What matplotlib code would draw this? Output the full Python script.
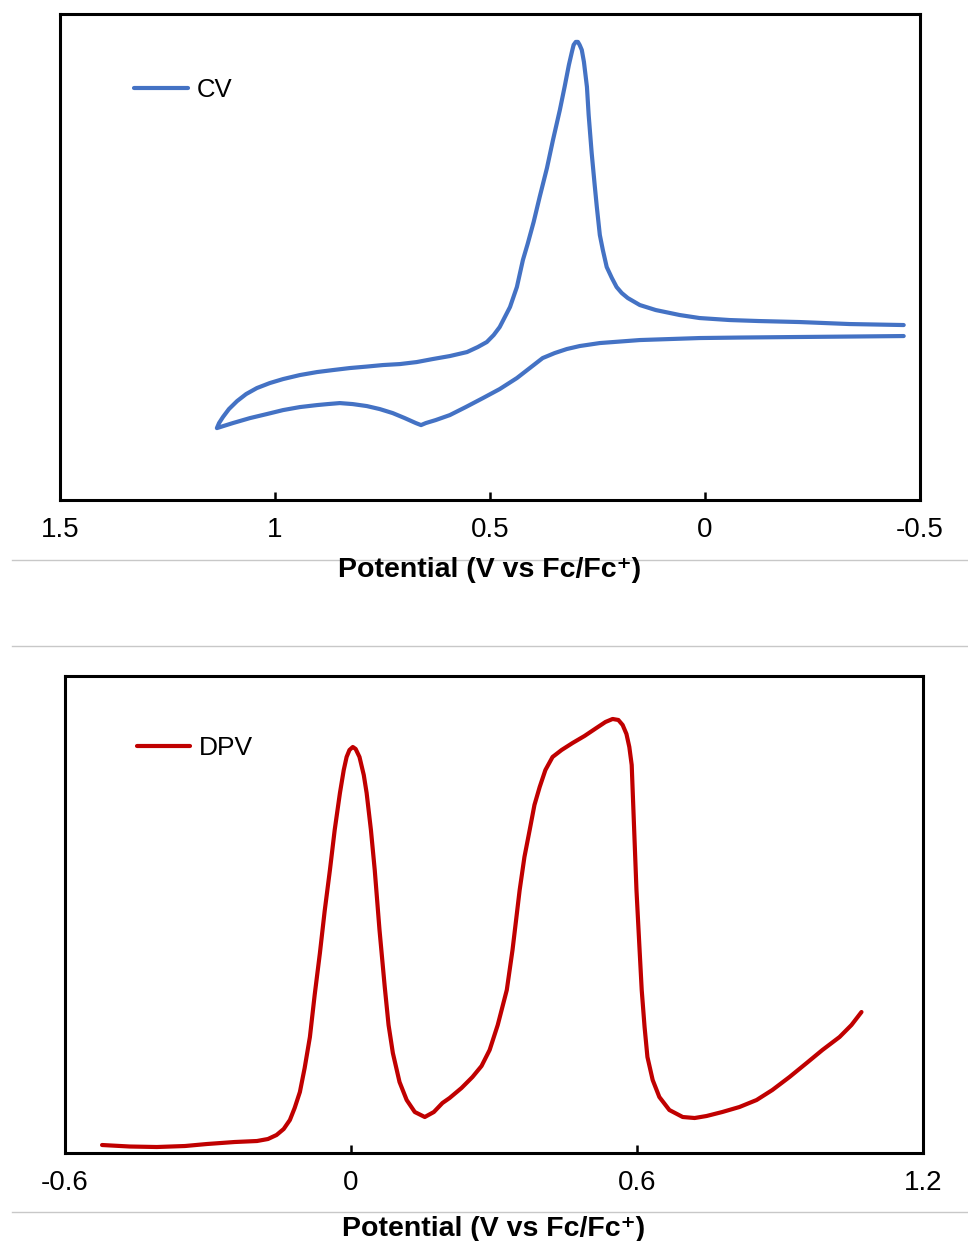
import matplotlib
matplotlib.use("Agg")
import matplotlib.pyplot as plt
from matplotlib.lines import Line2D

plt.rcParams['font.family'] = ['Liberation Sans', 'DejaVu Sans']

# CV scan: reverse branch from -0.46 V out to the 1.14 V vertex, then the forward branch back
cv_potential = [-0.463, -0.337, -0.205, -0.081, 0.012, 0.151, 0.244, 0.291, 0.321, 0.349,
                0.377, 0.407, 0.437, 0.477, 0.516, 0.556, 0.593, 0.626, 0.649, 0.660,
                0.672, 0.698, 0.726, 0.756, 0.786, 0.819, 0.849, 0.877, 0.902, 0.942,
                0.981, 1.019, 1.058, 1.098, 1.135,
                1.130, 1.121, 1.107, 1.088, 1.067, 1.042, 1.012, 0.981, 0.942, 0.902,
                0.865, 0.826, 0.786, 0.749, 0.709, 0.670, 0.633, 0.593, 0.553, 0.528,
                0.507, 0.491, 0.477, 0.465, 0.453, 0.437, 0.423, 0.412, 0.398, 0.384,
                0.367, 0.353, 0.337, 0.326, 0.316, 0.309, 0.305, 0.300, 0.295, 0.291,
                0.286, 0.281, 0.274, 0.270, 0.263, 0.256, 0.251, 0.244, 0.237, 0.228,
                0.216, 0.205, 0.193, 0.179, 0.151, 0.114, 0.058, 0.012, -0.058, -0.126,
                -0.221, -0.337, -0.463]
cv_current = [16.4, 16.35, 16.3, 16.25, 16.2, 16.0, 15.7, 15.4, 15.1, 14.7,
              14.2, 13.2, 12.2, 11.1, 10.2, 9.3, 8.5, 8.0, 7.7, 7.5,
              7.7, 8.2, 8.7, 9.1, 9.4, 9.6, 9.7, 9.6, 9.5, 9.3,
              9.0, 8.6, 8.2, 7.7, 7.2,
              7.7, 8.3, 9.1, 9.9, 10.6, 11.2, 11.7, 12.1, 12.5, 12.8,
              13.0, 13.2, 13.35, 13.5, 13.6, 13.8, 14.1, 14.4, 14.8, 15.3,
              15.8, 16.5, 17.3, 18.3, 19.3, 21.3, 24.0, 25.6, 27.8, 30.3,
              33.2, 36.0, 39.0, 41.3, 43.5, 44.8, 45.5, 45.8, 45.8, 45.5,
              45.0, 43.8, 41.3, 38.5, 34.7, 31.5, 29.3, 26.5, 25.0, 23.3,
              22.2, 21.3, 20.7, 20.2, 19.5, 19.0, 18.5, 18.2, 18.0, 17.9,
              17.8, 17.6, 17.5]

dpv_potential = [-0.522, -0.464, -0.407, -0.348, -0.302, -0.244, -0.197, -0.174, -0.156, -0.141,
                 -0.128, -0.118, -0.107, -0.097, -0.086, -0.076, -0.065, -0.055, -0.044, -0.034,
                 -0.023, -0.015, -0.009, -0.003, 0.004, 0.010, 0.018, 0.027, 0.033, 0.042,
                 0.050, 0.060, 0.071, 0.079, 0.088, 0.102, 0.117, 0.134, 0.155, 0.174,
                 0.192, 0.207, 0.232, 0.255, 0.274, 0.291, 0.308, 0.327, 0.339, 0.354,
                 0.364, 0.375, 0.385, 0.396, 0.408, 0.423, 0.442, 0.465, 0.490, 0.515,
                 0.534, 0.549, 0.561, 0.570, 0.578, 0.584, 0.589, 0.591, 0.595, 0.599,
                 0.605, 0.610, 0.616, 0.622, 0.633, 0.647, 0.668, 0.696, 0.721, 0.746,
                 0.779, 0.815, 0.851, 0.884, 0.920, 0.956, 0.989, 1.025, 1.050, 1.071]
dpv_current = [0.8, 0.65, 0.6, 0.7, 0.9, 1.1, 1.2, 1.4, 1.8, 2.4,
               3.3, 4.5, 6.1, 8.5, 11.6, 15.8, 20.0, 24.2, 28.3, 32.3,
               36.0, 38.3, 39.6, 40.3, 40.6, 40.4, 39.6, 37.8, 36.0, 32.3,
               28.3, 22.3, 16.6, 12.8, 10.0, 7.1, 5.3, 4.1, 3.6, 4.1,
               5.0, 5.5, 6.5, 7.6, 8.7, 10.3, 12.8, 16.3, 20.3, 26.3,
               29.6, 32.3, 34.8, 36.6, 38.3, 39.6, 40.3, 41.0, 41.7, 42.5,
               43.1, 43.4, 43.3, 42.8, 41.9, 40.6, 38.8, 36.3, 31.3, 26.3,
               20.8, 16.3, 12.6, 9.6, 7.3, 5.6, 4.3, 3.6, 3.5, 3.7,
               4.1, 4.6, 5.3, 6.3, 7.6, 9.0, 10.3, 11.6, 12.8, 14.1]

xlabel = "Potential (V vs Fc/Fc\u207a)"

fig = plt.figure(figsize=(9.68, 12.41), dpi=100)
ax1 = fig.add_axes([0.062, 0.597, 0.888, 0.3918])
ax2 = fig.add_axes([0.067, 0.0709, 0.8865, 0.3844])

def style(ax, lpad):
    for s in ax.spines.values():
        s.set_linewidth(2.2)
    ax.tick_params(axis='x', direction='in', length=6, width=1.8, labelsize=20, pad=12)
    ax.set_yticks([])
    ax.set_xlabel(xlabel, fontsize=20.5, fontweight='bold', labelpad=lpad)

ax1.plot(cv_potential, cv_current, color='#4472C4', lw=3, solid_joinstyle='round',
         solid_capstyle='round', label='CV')
ax1.set_xlim(1.5, -0.5)
ax1.set_ylim(0, 48.6)
ax1.set_xticks([1.5, 1, 0.5, 0, -0.5])
ax1.set_xticklabels(['1.5', '1', '0.5', '0', '-0.5'])
style(ax1, 10)
ax1.legend(loc='center left', bbox_to_anchor=(0.086, 0.844), frameon=False, fontsize=18.5,
           handlelength=2.1, handletextpad=0.36, borderpad=0, borderaxespad=0)

ax2.plot(dpv_potential, dpv_current, color='#C00000', lw=3, solid_joinstyle='round',
         solid_capstyle='round', label='DPV')
ax2.set_xlim(-0.6, 1.2)
ax2.set_ylim(0, 47.7)
ax2.set_xticks([-0.6, 0, 0.6, 1.2])
ax2.set_xticklabels(['-0.6', '0', '0.6', '1.2'])
style(ax2, 14.5)
ax2.legend(loc='center left', bbox_to_anchor=(0.084, 0.849), frameon=False, fontsize=19,
           handlelength=2.0, handletextpad=0.36, borderpad=0, borderaxespad=0)

# thin grey separators, kept behind the axis labels
for ypx in [560, 646, 1212]:
    yf = 1 - ypx / 1241
    fig.add_artist(Line2D([12 / 968, 1], [yf, yf], color='#c8c8c8', lw=1, zorder=-1))

fig.savefig('out.png', dpi=100)
